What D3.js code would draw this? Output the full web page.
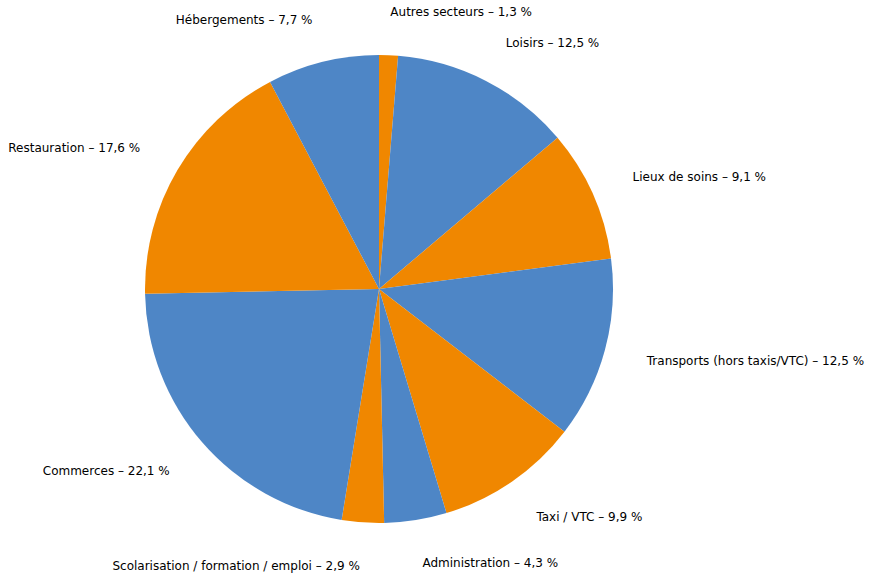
<!DOCTYPE html>
<html>
<head>
<meta charset="utf-8">
<script src="https://cdn.jsdelivr.net/npm/d3@7"></script>
<style>
  body { margin: 0; background: #fff; }
  svg text { font-family: "DejaVu Sans", sans-serif; font-size: 12px; fill: #000; }
</style>
</head>
<body>
<svg id="chart" width="872" height="578"></svg>
<script>
const labels = ["Autres secteurs", "Loisirs", "Lieux de soins", "Transports (hors taxis/VTC)",
  "Taxi / VTC", "Administration", "Scolarisation / formation / emploi", "Commerces",
  "Restauration", "Hébergements"];
const shares = [1.3, 12.5, 9.1, 12.5, 9.9, 4.3, 2.9, 22.1, 17.6, 7.7];
const colors = ["#f08700", "#4e86c6"];

const svg = d3.select("#chart");
const cx = 379, cy = 289, R = 234;
const labelDist = 1.185;

const data = labels.map((l, i) => ({ label: l, value: shares[i] }));
const pie = d3.pie().value(d => d.value).sort(null);
const arc = d3.arc().innerRadius(0).outerRadius(R);
const arcs = pie(data);

const g = svg.append("g").attr("transform", `translate(${cx},${cy})`);

g.selectAll("path").data(arcs)
  .join("path")
    .attr("d", arc)
    .attr("fill", (d, i) => colors[i % 2]);

g.selectAll("text").data(arcs)
  .join("text")
    .each(function(d) {
      const a = (d.startAngle + d.endAngle) / 2;
      const x = Math.sin(a) * R * labelDist;
      const y = -Math.cos(a) * R * labelDist;
      d3.select(this)
        .attr("x", x).attr("y", y)
        .attr("dy", "0.35em")
        .attr("text-anchor", x >= 0 ? "start" : "end");
    })
    .text(d => `${d.data.label} – ${String(d.data.value).replace(".", ",")} %`);
</script>
</body>
</html>
